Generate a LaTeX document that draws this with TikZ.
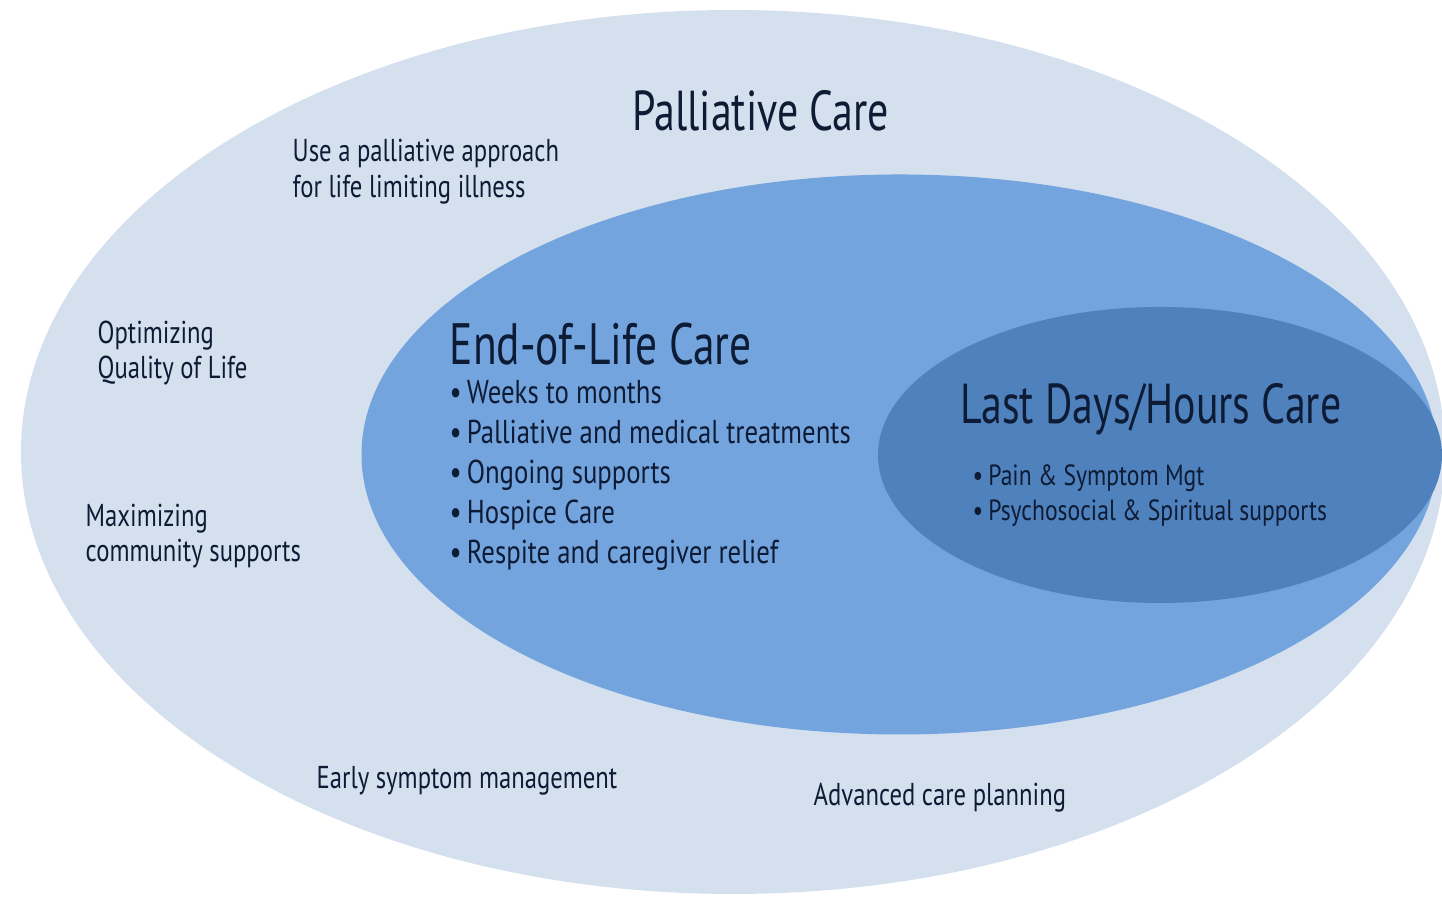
\documentclass[tikz,border=0pt]{standalone}
\usepackage{fontspec}
\setmainfont{PT Sans}[FakeStretch=0.81]
\newfontfamily\headfont{PT Sans}[FakeStretch=0.745]
\newfontfamily\notefont{PT Sans}[FakeStretch=0.78]
\usetikzlibrary{positioning, shapes}
\definecolor{palfill}{HTML}{D5E0EF}
\definecolor{eolfill}{HTML}{73A4DE}
\definecolor{lastfill}{HTML}{4F81BD}
\definecolor{ink}{HTML}{0D1B35}

\begin{document}
\begin{tikzpicture}[inner sep=0pt, text=ink,
      zone/.style={ellipse, draw=none},
      heading/.style={anchor=west, font=\headfont\fontsize{16pt}{19pt}\selectfont},
      note/.style={anchor=west, align=left, font=\notefont\fontsize{9pt}{10.2pt}\selectfont},
      items/.style={anchor=north west, align=left, font=\fontsize{9.4pt}{11.38pt}\selectfont},
      smallitems/.style={anchor=north west, align=left, font=\fontsize{8.3pt}{9.96pt}\selectfont}]
      \useasboundingbox (0,0) rectangle (14.42,8.99);
      \begin{scope}
      \clip (0,0) rectangle (14.42,8.99);
      % palliative, end of life, last days;
      \node[zone, fill=palfill, minimum width=14.24cm, minimum height=8.84cm](pal) at(7.33,4.47) {};
      \node[zone, fill=eolfill, minimum width=10.76cm, minimum height=5.60cm](eol) at(8.995,4.445) {};
      \node[zone, fill=lastfill, minimum width=5.64cm, minimum height=2.96cm](last) at(11.60,4.44) {};
      \end{scope}
      % outer ring texts
      \node[heading](pal_title) at(6.32,7.88) {Palliative Care};
      \node[note](approach) at(2.92,7.27) {Use a palliative approach\\for life limiting illness};
      \node[note](quality) at(0.97,5.46) {Optimizing\\Quality of Life};
      \node[note](community) at(0.85,3.63) {Maximizing\\community supports};
      \node[note](early) at(3.16,1.18) {Early symptom management};
      \node[note](advanced) at(8.13,1.01) {Advanced care planning};
      % end of life
      \node[heading, font=\headfont\fontsize{16.6pt}{19pt}\selectfont](eol_title) at(4.49,5.55) {End-of-Life Care};
      \node[items](eol_list) at(4.49,5.19) {\textbullet\hspace{0.5mm}Weeks to months\\
        \textbullet\hspace{0.5mm}Palliative and medical treatments\\
        \textbullet\hspace{0.5mm}Ongoing supports\\
        \textbullet\hspace{0.5mm}Hospice Care\\
        \textbullet\hspace{0.5mm}Respite and caregiver relief};
      % last days
      \node[heading](last_title) at(9.60,4.90) {Last Days/Hours Care};
      \node[smallitems](last_list) at(9.72,4.35) {\textbullet\hspace{0.5mm}Pain \& Symptom Mgt\\
        \textbullet\hspace{0.5mm}Psychosocial \& Spiritual supports};
  \end{tikzpicture}
\end{document}
